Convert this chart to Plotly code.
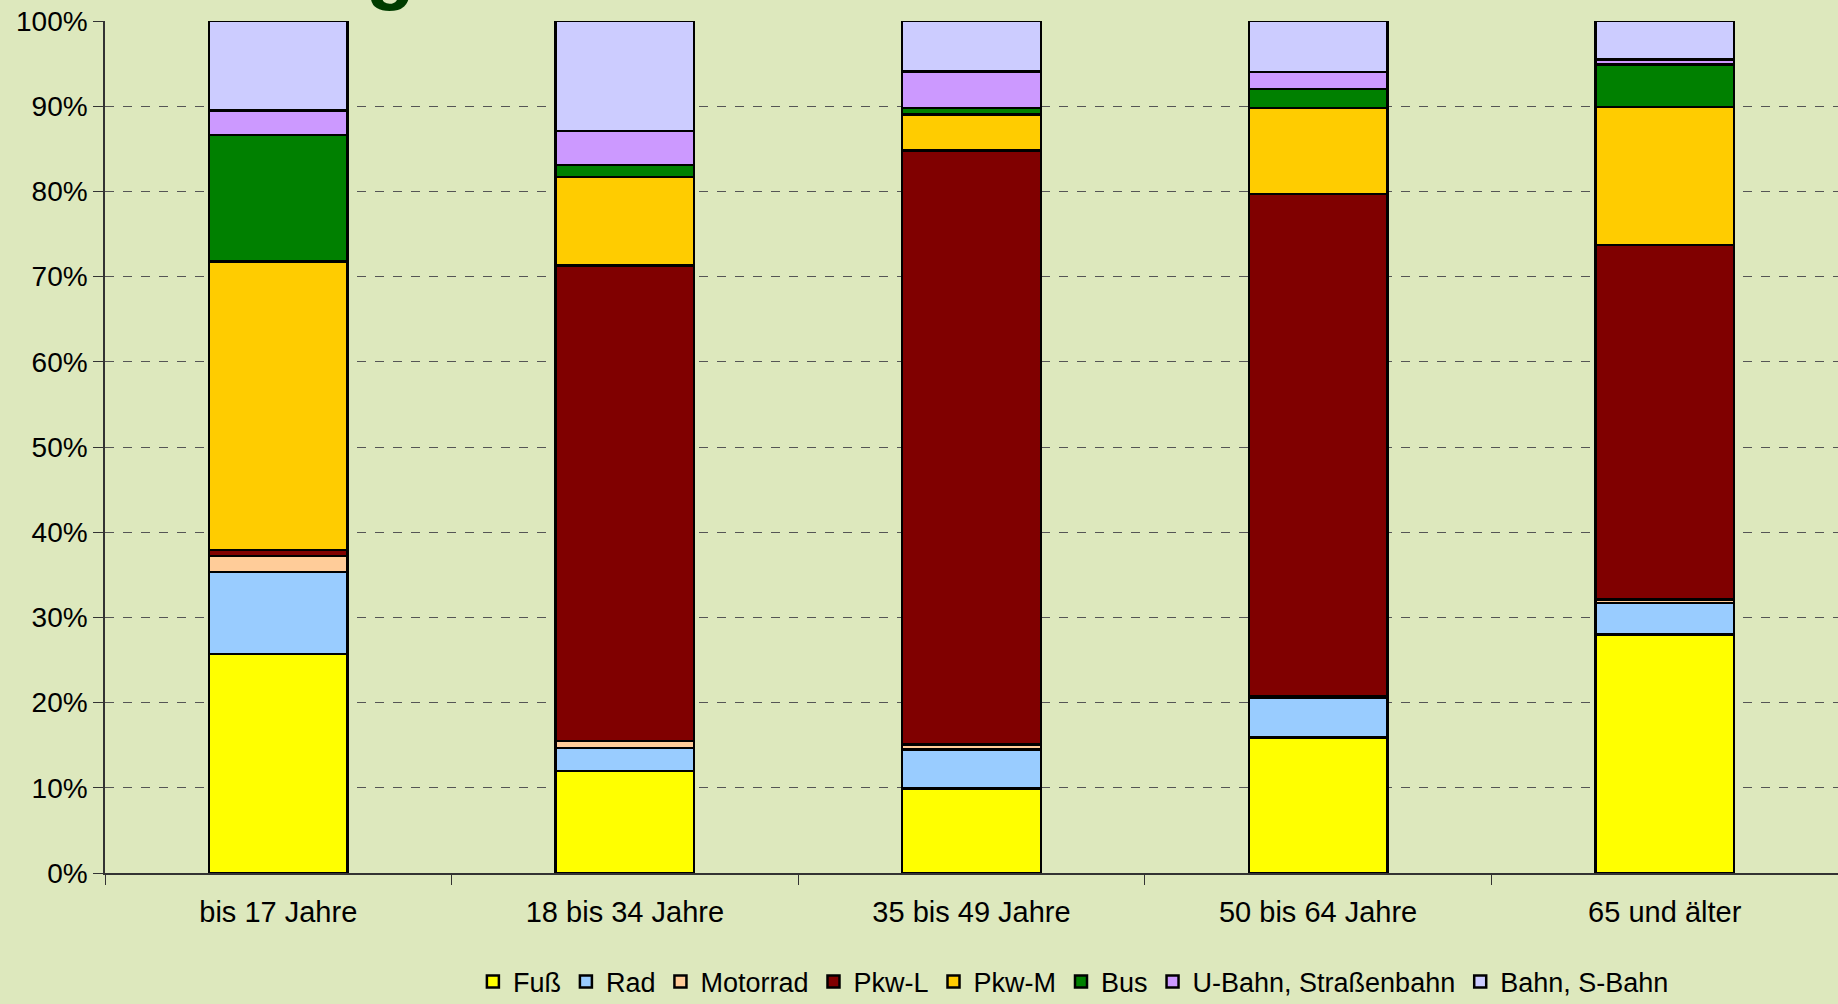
import plotly.graph_objects as go

categories = ["bis 17 Jahre", "18 bis 34 Jahre", "35 bis 49 Jahre", "50 bis 64 Jahre", "65 und älter"]

fuss = [25.7, 12.0, 9.9, 15.9, 28.0]
rad = [9.6, 2.7, 4.6, 4.7, 3.7]
motorrad = [1.9, 0.8, 0.6, 0.2, 0.4]
pkw_l = [0.7, 55.8, 69.7, 58.9, 41.6]
pkw_m = [33.9, 10.4, 4.2, 10.1, 16.2]
bus = [14.8, 1.4, 0.8, 2.2, 5.0]
ubahn = [2.9, 4.0, 4.3, 2.0, 0.6]
bahn = [10.5, 12.9, 5.9, 6.0, 4.5]

series_names = ["Fuß", "Rad", "Motorrad", "Pkw-L", "Pkw-M", "Bus", "U-Bahn, Straßenbahn", "Bahn, S-Bahn"]
series_values = [fuss, rad, motorrad, pkw_l, pkw_m, bus, ubahn, bahn]
series_colors = ["#FFFF00", "#99CCFF", "#FFCC99", "#800000", "#FFCC00", "#008000", "#CC99FF", "#CCCCFF"]

y_ticks = [0, 10, 20, 30, 40, 50, 60, 70, 80, 90, 100]
y_ticklabels = [f"{v}%" for v in y_ticks]

BG = "#DDE8BD"
FONT = "Liberation Sans, Arial, sans-serif"

fig = go.Figure()
for name, vals, col in zip(series_names, series_values, series_colors):
    fig.add_trace(go.Bar(
        x=categories, y=vals, name=name,
        marker=dict(color=col, line=dict(color="#000000", width=2.5)),
    ))

fig.update_layout(
    barmode="stack",
    bargap=0.6,
    width=1838, height=1004,
    margin=dict(l=105, r=0, t=21, b=131),
    paper_bgcolor=BG, plot_bgcolor=BG,
    font=dict(family=FONT, size=27, color="#000000"),
    showlegend=True,
    legend=dict(
        orientation="h", xref="container", yref="container",
        x=0.584, y=0.022, xanchor="center", yanchor="middle",
        font=dict(size=27), traceorder="normal", bgcolor="rgba(0,0,0,0)",
        itemwidth=30, tracegroupgap=0,
    ),
    xaxis=dict(
        type="category", range=[-0.5, 4.5],
        showline=True, linecolor="#333333", linewidth=1.5,
        ticks="outside", tickson="boundaries", ticklen=10, tickcolor="#333333",
        showgrid=False, tickfont=dict(size=29),
        ticklabelstandoff=12,
    ),
    yaxis=dict(
        range=[0, 100], tickvals=y_ticks, ticktext=y_ticklabels,
        showline=True, linecolor="#333333", linewidth=1.5,
        ticks="outside", ticklen=10, tickcolor="#333333",
        showgrid=True, gridcolor="#555555", griddash="dash", gridwidth=1,
        zeroline=False, tickfont=dict(size=28),
    ),
    annotations=[dict(
        text="<b>g</b>", xref="paper", yref="paper",
        x=0.1645, y=1.0, yshift=8, xanchor="center", yanchor="bottom",
        showarrow=False, font=dict(size=80, color="#003C00", family=FONT),
    )],
)

fig.write_html("out.html", config={"displayModeBar": False},
               post_script="document.body.style.margin='0';document.body.style.overflow='hidden';")
